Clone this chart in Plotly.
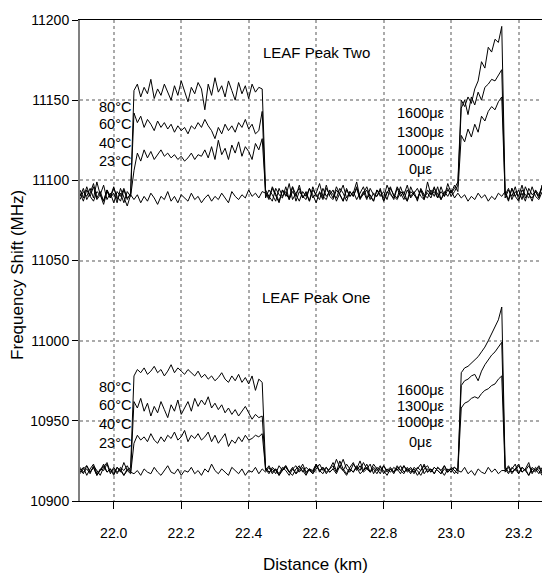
import numpy as np
import plotly.graph_objects as go

# distance grid (km), 0.01 km sampling from 21.90 to 23.30
distance = np.round(21.90 + 0.01 * np.arange(141), 2)

# LEAF Peak Two traces (MHz)
peak_two_23c = [
    11094, 11089, 11096, 11090, 11087, 11093, 11091, 11097, 11088, 11092, 11086, 11093, 11090, 11095, 11089, 11091,
    11088, 11091, 11086, 11090, 11087, 11092, 11089, 11085, 11090, 11088, 11093, 11087, 11090, 11086, 11091, 11089,
    11087, 11092, 11088, 11090, 11086, 11089, 11091, 11087, 11090, 11088, 11092, 11089, 11086, 11093, 11090, 11088,
    11091, 11089, 11094, 11090, 11092, 11089, 11093,
    11092, 11088, 11095, 11090, 11086, 11094, 11091, 11089, 11096, 11087, 11093, 11090, 11088, 11095, 11091, 11086,
    11093, 11089, 11097, 11090, 11088, 11094, 11091, 11087, 11095, 11090, 11093, 11088, 11092, 11096, 11089, 11091,
    11087, 11094, 11090, 11093, 11088, 11095, 11091, 11089, 11096, 11090, 11087, 11093, 11091, 11088, 11094, 11090,
    11092, 11089, 11095, 11091, 11088, 11093, 11090, 11094, 11089, 11092,
    11089, 11091, 11087, 11090, 11088, 11092, 11089, 11091, 11087, 11090, 11088, 11092, 11090,
    11093, 11088, 11095, 11090, 11087, 11094, 11091, 11089, 11096, 11090, 11088, 11093, 11091, 11095, 11089,
]
peak_two_40c = [
    11090, 11095, 11088, 11092, 11098, 11089, 11093, 11087, 11094, 11090, 11096, 11088, 11092, 11086, 11093, 11090,
    11106, 11117, 11112, 11119, 11114, 11118, 11113, 11116, 11119, 11115, 11117, 11114, 11116, 11113, 11115, 11112,
    11114, 11117, 11113, 11116, 11115, 11119, 11114, 11121, 11113, 11125, 11116, 11120, 11113, 11122, 11117, 11124,
    11115, 11121, 11118, 11113, 11123, 11119, 11126,
    11093, 11089, 11096, 11091, 11087, 11094, 11090, 11098, 11088, 11092, 11095, 11089, 11093, 11087, 11096, 11090,
    11092, 11088, 11095, 11091, 11094, 11087, 11092, 11097, 11089, 11093, 11090, 11095, 11088, 11092, 11096, 11090,
    11087, 11094, 11091, 11089, 11097, 11092, 11088, 11095, 11090, 11093, 11087, 11096, 11091, 11089, 11094, 11088,
    11099, 11091, 11093, 11089, 11096, 11090, 11094, 11092, 11097, 11093,
    11128, 11124, 11132, 11127, 11135, 11130, 11140, 11137, 11143, 11146, 11144, 11149, 11152,
    11091, 11095, 11088, 11093, 11090, 11097, 11089, 11092, 11087, 11094, 11091, 11096, 11089, 11093, 11090,
]
peak_two_60c = [
    11092, 11087, 11094, 11090, 11096, 11088, 11091, 11085, 11093, 11089, 11095, 11090, 11087, 11094, 11088, 11092,
    11142, 11136, 11140, 11133, 11138, 11135, 11131, 11137, 11133, 11136, 11132, 11135, 11130, 11134, 11131, 11133,
    11129, 11134, 11132, 11136, 11133, 11138, 11134, 11131, 11126, 11133, 11129, 11135, 11131, 11134, 11130, 11136,
    11133, 11138, 11132, 11135, 11129, 11131, 11143,
    11089, 11094, 11091, 11087, 11095, 11090, 11093, 11088, 11096, 11091, 11087, 11093, 11090, 11095, 11089, 11092,
    11098, 11090, 11088, 11094, 11091, 11089, 11095, 11092, 11087, 11093, 11090, 11096, 11089, 11091, 11094, 11088,
    11092, 11090, 11095, 11087, 11093, 11091, 11089, 11096, 11092, 11088, 11094, 11090, 11093, 11087, 11095, 11091,
    11089, 11094, 11090, 11096, 11088, 11092, 11095, 11090, 11093, 11097,
    11145, 11150, 11141, 11152, 11147, 11155, 11150, 11158, 11160, 11163, 11162, 11166, 11169,
    11089, 11094, 11090, 11096, 11088, 11092, 11087, 11095, 11091, 11093, 11089, 11097, 11090, 11092, 11094,
]
peak_two_80c = [
    11088, 11093, 11090, 11095, 11089, 11099, 11091, 11087, 11094, 11089, 11092, 11086, 11095, 11090, 11084, 11091,
    11156, 11160, 11152, 11158, 11154, 11163, 11151, 11157, 11153, 11160, 11155, 11150, 11159, 11153, 11162, 11156,
    11149, 11158, 11154, 11161, 11157, 11144, 11160, 11153, 11164, 11155, 11159, 11152, 11162, 11156, 11150, 11161,
    11154, 11159, 11151, 11160, 11155, 11158, 11157,
    11094, 11090, 11087, 11095, 11091, 11089, 11096, 11088, 11093, 11090, 11097, 11089, 11092, 11087, 11094, 11091,
    11088, 11095, 11090, 11093, 11089, 11096, 11091, 11087, 11094, 11090, 11092, 11099, 11089, 11093, 11088, 11095,
    11091, 11090, 11094, 11087, 11092, 11096, 11090, 11088, 11093, 11091, 11097, 11089, 11092, 11095, 11090, 11088,
    11094, 11091, 11096, 11089, 11093, 11090, 11098, 11092, 11095, 11099,
    11150, 11146, 11152, 11148, 11157, 11162, 11174, 11170, 11183, 11180, 11188, 11186, 11196,
    11092, 11087, 11095, 11090, 11094, 11088, 11096, 11091, 11089, 11093, 11090, 11097, 11088, 11094, 11092,
]

# LEAF Peak One traces (MHz)
peak_one_23c = [
    10920, 10917, 10922, 10918, 10921, 10916, 10919, 10923, 10918, 10920, 10917, 10921, 10919, 10916, 10920, 10918,
    10917, 10919, 10916, 10920, 10918, 10917, 10921, 10918, 10916, 10919, 10922, 10918, 10917, 10920, 10916, 10919,
    10918, 10921, 10917, 10919, 10916, 10920, 10918, 10923, 10919, 10917, 10920, 10918, 10916, 10921, 10919, 10917,
    10920, 10916, 10919, 10918, 10921, 10917, 10920,
    10918, 10921, 10917, 10920, 10916, 10919, 10922, 10918, 10920, 10917, 10921, 10919, 10916, 10920, 10918, 10923,
    10919, 10917, 10921, 10918, 10920, 10917, 10922, 10919, 10916, 10920, 10918, 10921, 10917, 10919, 10923, 10918,
    10920, 10917, 10921, 10919, 10916, 10920, 10918, 10922, 10919, 10917, 10921, 10918, 10920, 10916, 10919, 10922,
    10918, 10920, 10917, 10921, 10919, 10916, 10920, 10918, 10921, 10919,
    10918, 10921, 10917, 10919, 10916, 10920, 10918, 10917, 10921, 10918, 10920, 10917, 10919,
    10919, 10922, 10918, 10920, 10917, 10921, 10919, 10916, 10920, 10918, 10921, 10917, 10919, 10922, 10918,
]
peak_one_40c = [
    10918, 10921, 10916, 10920, 10923, 10917, 10919, 10922, 10918, 10920, 10916, 10921, 10918, 10924, 10919, 10917,
    10936, 10941, 10938, 10940, 10937, 10942, 10938, 10936, 10940, 10937, 10941, 10939, 10943, 10938, 10940, 10944,
    10937, 10941, 10939, 10942, 10938, 10940, 10943, 10937, 10941, 10936, 10939, 10942, 10934, 10938, 10936, 10940,
    10937, 10941, 10938, 10939, 10941, 10940, 10942,
    10920, 10917, 10921, 10919, 10916, 10920, 10922, 10918, 10921, 10917, 10919, 10923, 10918, 10920, 10917, 10922,
    10919, 10921, 10918, 10920, 10924, 10919, 10921, 10926, 10920, 10918, 10923, 10920, 10925, 10919, 10921, 10918,
    10923, 10920, 10917, 10922, 10919, 10921, 10918, 10920, 10917, 10922, 10919, 10921, 10918, 10920, 10923, 10917,
    10920, 10918, 10921, 10919, 10917, 10922, 10918, 10920, 10921, 10919,
    10958, 10961, 10962, 10964, 10965, 10964, 10967, 10969, 10970, 10972, 10973, 10976, 10978,
    10918, 10921, 10917, 10920, 10923, 10918, 10920, 10916, 10921, 10919, 10922, 10918, 10920, 10917, 10921,
]
peak_one_60c = [
    10921, 10918, 10920, 10917, 10922, 10919, 10916, 10921, 10924, 10918, 10920, 10917, 10921, 10919, 10922, 10918,
    10962, 10958, 10964, 10956, 10961, 10953, 10959, 10955, 10962, 10957, 10952, 10960, 10956, 10963, 10954, 10958,
    10962, 10956, 10964, 10959, 10963, 10960, 10965, 10958, 10961, 10957, 10960, 10955, 10958, 10954, 10957, 10953,
    10956, 10959, 10955, 10951, 10954, 10952, 10953,
    10919, 10922, 10918, 10920, 10917, 10921, 10919, 10916, 10920, 10922, 10918, 10921, 10917, 10920, 10919, 10923,
    10918, 10921, 10917, 10920, 10922, 10918, 10925, 10920, 10917, 10921, 10924, 10919, 10922, 10918, 10920, 10923,
    10917, 10921, 10919, 10922, 10918, 10920, 10917, 10921, 10919, 10922, 10918, 10920, 10917, 10921, 10919, 10923,
    10918, 10920, 10917, 10921, 10919, 10922, 10918, 10920, 10917, 10921,
    10972, 10975, 10976, 10978, 10979, 10975, 10981, 10985, 10988, 10991, 10993, 10996, 10999,
    10920, 10917, 10921, 10919, 10922, 10918, 10920, 10924, 10917, 10921, 10919, 10916, 10920, 10918, 10922,
]
peak_one_80c = [
    10917, 10920, 10922, 10918, 10921, 10916, 10920, 10919, 10923, 10917, 10921, 10918, 10920, 10916, 10919, 10921,
    10978, 10982, 10980, 10983, 10979, 10981, 10984, 10980, 10982, 10978, 10981, 10985, 10980, 10983, 10981, 10979,
    10982, 10980, 10978, 10981, 10977, 10979, 10976, 10978, 10975, 10977, 10980, 10976, 10974, 10978, 10975, 10979,
    10974, 10977, 10973, 10978, 10969, 10976, 10974,
    10921, 10918, 10920, 10917, 10922, 10919, 10921, 10918, 10916, 10920, 10922, 10918, 10921, 10919, 10917, 10920,
    10923, 10919, 10921, 10918, 10920, 10926, 10921, 10919, 10923, 10920, 10918, 10922, 10919, 10924, 10920, 10918,
    10921, 10919, 10922, 10917, 10920, 10918, 10921, 10919, 10922, 10918, 10920, 10917, 10921, 10919, 10916, 10920,
    10922, 10918, 10921, 10919, 10917, 10920, 10918, 10921, 10919, 10917,
    10980, 10983, 10984, 10986, 10988, 10990, 10993, 10996, 11000, 11004, 11008, 11013, 11021,
    10921, 10918, 10920, 10923, 10917, 10921, 10919, 10922, 10918, 10920, 10917, 10921, 10919, 10922, 10918,
]

temp_labels = ["80°C", "60°C", "40°C", "23°C"]
strain_labels = ["1600με", "1300με", "1000με", "0με"]

traces = [peak_two_23c, peak_two_40c, peak_two_60c, peak_two_80c,
          peak_one_23c, peak_one_40c, peak_one_60c, peak_one_80c]

fig = go.Figure()
for vals in traces:
    assert len(vals) == len(distance), len(vals)
    fig.add_trace(go.Scatter(x=distance, y=vals, mode='lines',
                             line=dict(color='black', width=1), hoverinfo='skip'))

font = dict(family='Liberation Sans, Arial, sans-serif', size=14, color='black')

ann = []
ann.append(dict(x=22.6, y=11180, text='LEAF Peak Two', showarrow=False, font=dict(size=15)))
ann.append(dict(x=22.6, y=11027, text='LEAF Peak One', showarrow=False, font=dict(size=15)))
# temperature labels, right aligned just left of heated section
for lab, yu, yl in zip(temp_labels, [11146, 11135, 11123, 11112], [10971, 10960, 10948, 10936]):
    ann.append(dict(x=22.057, y=yu, text=lab, xanchor='right', showarrow=False, font=dict(size=14.5)))
    ann.append(dict(x=22.057, y=yl, text=lab, xanchor='right', showarrow=False, font=dict(size=14.5)))
# strain labels
for lab, yu, yl in zip(strain_labels, [11142, 11130, 11119, 11107], [10969, 10959, 10949, 10937]):
    ann.append(dict(x=22.91, y=yu, text=lab, showarrow=False, font=dict(size=14.5)))
    ann.append(dict(x=22.91, y=yl, text=lab, showarrow=False, font=dict(size=14.5)))
# axis titles
ann.append(dict(xref='paper', yref='paper', x=0.5, y=-0.133, xanchor='center', yanchor='middle',
                text='Distance (km)', showarrow=False, font=dict(size=17)))
ann.append(dict(xref='paper', yref='paper', x=-0.132, y=0.47, xanchor='center', yanchor='middle',
                text='Frequency Shift (MHz)', textangle=-90, showarrow=False, font=dict(size=17)))

# page body adds an 8px offset, so the figure is 8px smaller than the window
fig.update_layout(
    width=542, height=568,
    margin=dict(l=72, r=0, t=12, b=75),
    plot_bgcolor='white', paper_bgcolor='white',
    showlegend=False, font=font, annotations=ann,
)
fig.update_xaxes(range=[21.9, 23.293], tickvals=[22.0, 22.2, 22.4, 22.6, 22.8, 23.0, 23.2],
                 ticktext=['22.0', '22.2', '22.4', '22.6', '22.8', '23.0', '23.2'],
                 showgrid=True, gridcolor='#ababab', griddash='dot', gridwidth=1.5,
                 showline=True, linecolor='black', linewidth=1, mirror=True,
                 ticks='outside', ticklen=7, tickcolor='black', zeroline=False,
                 ticklabelstandoff=12, automargin=False)
fig.update_yaxes(range=[10900, 11200], dtick=50, tickformat='d',
                 showgrid=True, gridcolor='#ababab', griddash='dot', gridwidth=1.5,
                 showline=True, linecolor='#808080', linewidth=2,
                 ticks='outside', ticklen=6, tickcolor='black', zeroline=False,
                 automargin=False)

fig.write_html("out.html")
